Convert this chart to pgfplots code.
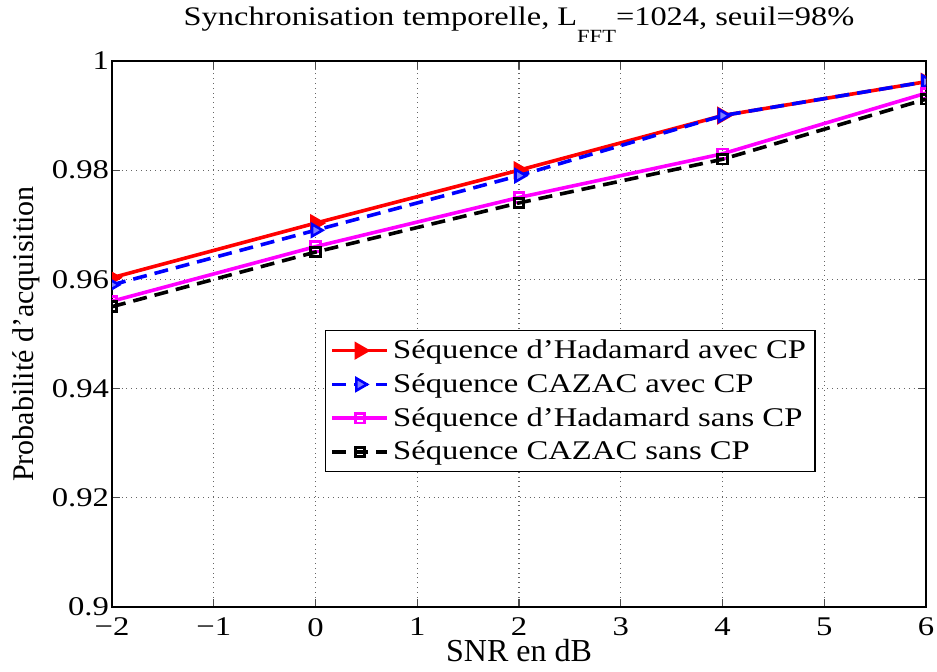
\documentclass[border=0pt]{standalone}
\usepackage{fontspec}
\setmainfont{Liberation Serif}
\usepackage{pgfplots}
\pgfplotsset{compat=1.18}
\definecolor{mred}{RGB}{255,0,0}
\definecolor{mblue}{RGB}{0,0,255}
\definecolor{mmag}{RGB}{255,0,255}
\newcommand{\sx}[1]{\scalebox{1.21}[1]{#1}}
\begin{document}
\begin{tikzpicture}
\begin{axis}[
  scale only axis, width=407pt, height=273pt,
  xmin=-2, xmax=6, ymin=0.9, ymax=1,
  xtick={-2,-1,0,1,2,3,4,5,6},
  xticklabels={\sx{−2},\sx{−1},\sx{0},\sx{1},\sx{2},\sx{3},\sx{4},\sx{5},\sx{6}},
  ytick={0.9,0.92,0.94,0.96,0.98,1},
  yticklabels={\sx{0.9},\sx{0.92},\sx{0.94},\sx{0.96},\sx{0.98},\sx{1}},
  tick align=inside, major tick length=4pt,
  grid=major, major grid style={dotted, line width=0.6pt, black!60},
  axis line style={line width=0.6pt},
  tick style={line width=0.6pt, black!70},
  ticklabel style={font=\fontsize{13.5}{16}\selectfont},
  xticklabel style={yshift=-2pt},
  yticklabel style={xshift=2pt},
  every axis title shift=0pt,
  title={\sx{Synchronisation temporelle, L\raisebox{-8.5pt}{\fontsize{9.3}{10}\selectfont FFT}=1024, seuil=98\%}},
  title style={at={(0.5,1.0641)}, anchor=base, font=\fontsize{13.4}{15}\selectfont, inner sep=0pt},
  xlabel={SNR en dB},
  xlabel style={at={(0.5,-0.1)}, anchor=base, font=\fontsize{16}{18}\selectfont, inner sep=0pt},
  ylabel={Probabilité d’acquisition},
  ylabel style={at={(-0.097,0.5)}, anchor=base, font=\fontsize{15}{17}\selectfont, inner sep=0pt},
  clip marker paths=true,
  legend style={at={(0.2617,0.507)}, anchor=north west, draw=black, line width=0.6pt,
    font=\fontsize{13.5}{16}\selectfont, row sep=2pt, inner sep=2.5pt},
  legend cell align=left,
  legend image code/.code={\draw[mark repeat=2, mark phase=2] plot coordinates {(0pt,0pt) (13.75pt,0pt) (27.5pt,0pt)};},
]
\addplot[mred, line width=1.8pt, mark=triangle*, mark size=3.5pt,
  mark options={rotate=-90, solid, fill=mred}]
  coordinates {(-2,0.9603) (0,0.9703) (2,0.980) (4,0.990) (6,0.9962)};
\addlegendentry{\sx{Séquence d’Hadamard avec CP}}
\addplot[mblue, line width=1.8pt, dash pattern=on 7pt off 4pt, mark=triangle*, mark size=3.5pt,
  mark options={rotate=-90, solid, fill=mblue!50!white, line width=1.3pt}]
  coordinates {(-2,0.959) (0,0.969) (2,0.979) (4,0.990) (6,0.9962)};
\addlegendentry{\sx{Séquence CAZAC avec CP}}
\addplot[mmag, line width=1.8pt, mark=square, mark size=2.4pt,
  mark options={solid, line width=1.4pt}]
  coordinates {(-2,0.956) (0,0.966) (2,0.975) (4,0.983) (6,0.9941)};
\addlegendentry{\sx{Séquence d’Hadamard sans CP}}
\addplot[black, line width=1.8pt, dash pattern=on 7pt off 4pt, mark=square, mark size=2.4pt,
  mark options={solid, line width=1.4pt}]
  coordinates {(-2,0.955) (0,0.965) (2,0.974) (4,0.982) (6,0.993)};
\addlegendentry{\sx{Séquence CAZAC sans CP}}
\coordinate (bl) at (rel axis cs:-0.1376,-0.119);
\coordinate (tr) at (rel axis cs:1.0135,1.1117);
\end{axis}
\pgfresetboundingbox
\path (bl) rectangle (tr);
\end{tikzpicture}
\end{document}
